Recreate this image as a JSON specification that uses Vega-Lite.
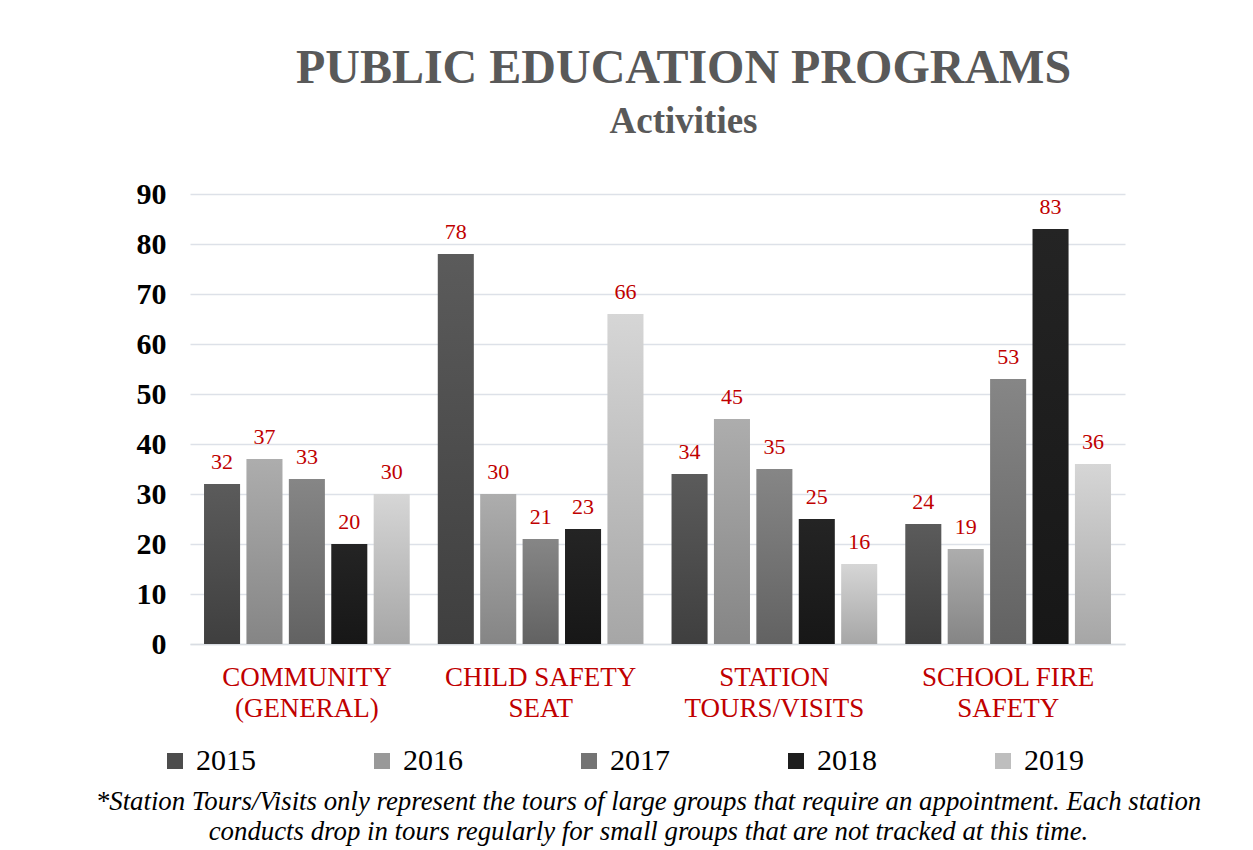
{
  "$schema": "https://vega.github.io/schema/vega-lite/v6.json",
  "background": "white",
  "padding": {"left": 95, "top": 45, "right": 5, "bottom": 2},
  "title": {
    "text": ["*Station Tours/Visits only represent the tours of large groups that require an appointment. Each station", "conducts drop in tours regularly for small groups that are not tracked at this time."],
    "orient": "bottom",
    "anchor": "middle",
    "dx": 18,
    "font": "Liberation Serif",
    "fontSize": 26.8,
    "fontStyle": "italic",
    "fontWeight": "normal",
    "color": "black",
    "lineHeight": 30,
    "offset": 13
  },
  "vconcat": [
    {
      "width": 935,
      "height": 450,
      "title": {
        "text": "PUBLIC EDUCATION PROGRAMS",
        "subtitle": "Activities",
        "anchor": "middle",
        "dx": 26,
        "font": "Liberation Serif",
        "fontSize": 48,
        "fontWeight": "bold",
        "color": "#595959",
        "subtitleFont": "Liberation Serif",
        "subtitleFontSize": 37,
        "subtitleFontWeight": "bold",
        "subtitleColor": "#595959",
        "subtitlePadding": 11,
        "offset": 39
      },
      "data": {
        "values": [
          {"program": "COMMUNITY|(GENERAL)", "year": "2015", "value": 32},
          {"program": "COMMUNITY|(GENERAL)", "year": "2016", "value": 37},
          {"program": "COMMUNITY|(GENERAL)", "year": "2017", "value": 33},
          {"program": "COMMUNITY|(GENERAL)", "year": "2018", "value": 20},
          {"program": "COMMUNITY|(GENERAL)", "year": "2019", "value": 30},
          {"program": "CHILD SAFETY|SEAT", "year": "2015", "value": 78},
          {"program": "CHILD SAFETY|SEAT", "year": "2016", "value": 30},
          {"program": "CHILD SAFETY|SEAT", "year": "2017", "value": 21},
          {"program": "CHILD SAFETY|SEAT", "year": "2018", "value": 23},
          {"program": "CHILD SAFETY|SEAT", "year": "2019", "value": 66},
          {"program": "STATION|TOURS/VISITS", "year": "2015", "value": 34},
          {"program": "STATION|TOURS/VISITS", "year": "2016", "value": 45},
          {"program": "STATION|TOURS/VISITS", "year": "2017", "value": 35},
          {"program": "STATION|TOURS/VISITS", "year": "2018", "value": 25},
          {"program": "STATION|TOURS/VISITS", "year": "2019", "value": 16},
          {"program": "SCHOOL FIRE|SAFETY", "year": "2015", "value": 24},
          {"program": "SCHOOL FIRE|SAFETY", "year": "2016", "value": 19},
          {"program": "SCHOOL FIRE|SAFETY", "year": "2017", "value": 53},
          {"program": "SCHOOL FIRE|SAFETY", "year": "2018", "value": 83},
          {"program": "SCHOOL FIRE|SAFETY", "year": "2019", "value": 36}
        ]
      },
      "encoding": {
        "x": {
          "field": "program",
          "type": "nominal",
          "sort": null,
          "scale": {"paddingInner": 0.12, "paddingOuter": 0.06},
          "axis": {
            "title": null,
            "labelAngle": 0,
            "labelExpr": "split(datum.label, '|')",
            "labelFont": "Liberation Serif",
            "labelFontSize": 27,
            "labelColor": "#C00000",
            "labelLineHeight": 31,
            "labelPadding": 20,
            "labelLimit": 400,
            "ticks": false,
            "domain": true,
            "domainColor": "#d9dde3",
            "domainWidth": 1.5,
            "grid": false
          }
        },
        "xOffset": {"field": "year", "type": "nominal", "scale": {"paddingInner": 0.15}},
        "y": {
          "field": "value",
          "type": "quantitative",
          "scale": {"domain": [0, 90], "nice": false},
          "axis": {
            "title": null,
            "values": [0, 10, 20, 30, 40, 50, 60, 70, 80, 90],
            "labelFont": "Liberation Serif",
            "labelFontSize": 30,
            "labelFontWeight": "bold",
            "labelColor": "black",
            "labelPadding": 24,
            "ticks": false,
            "domain": false,
            "grid": true,
            "gridColor": "#dde1e8",
            "gridWidth": 1.5
          }
        }
      },
      "layer": [
        {
          "mark": {"type": "bar"},
          "encoding": {
            "color": {
              "condition": [
                {"test": "datum.year === '2015'", "value": {"gradient": "linear", "x1": 0, "y1": 0, "x2": 0, "y2": 1, "stops": [{"offset": 0, "color": "#5b5b5b"}, {"offset": 1, "color": "#3f3f3f"}]}},
                {"test": "datum.year === '2016'", "value": {"gradient": "linear", "x1": 0, "y1": 0, "x2": 0, "y2": 1, "stops": [{"offset": 0, "color": "#adadad"}, {"offset": 1, "color": "#858585"}]}},
                {"test": "datum.year === '2017'", "value": {"gradient": "linear", "x1": 0, "y1": 0, "x2": 0, "y2": 1, "stops": [{"offset": 0, "color": "#868686"}, {"offset": 1, "color": "#626262"}]}},
                {"test": "datum.year === '2018'", "value": {"gradient": "linear", "x1": 0, "y1": 0, "x2": 0, "y2": 1, "stops": [{"offset": 0, "color": "#242424"}, {"offset": 1, "color": "#171717"}]}},
                {"test": "datum.year === '2019'", "value": {"gradient": "linear", "x1": 0, "y1": 0, "x2": 0, "y2": 1, "stops": [{"offset": 0, "color": "#d6d6d6"}, {"offset": 1, "color": "#a6a6a6"}]}}
              ],
              "field": "year",
              "type": "nominal",
              "scale": {
                "domain": ["2015", "2016", "2017", "2018", "2019"],
                "range": ["#4d4d4d", "#999999", "#747474", "#1e1e1e", "#bebebe"]
              },
              "legend": {
                "title": null,
                "orient": "bottom",
                "direction": "horizontal",
                "columns": 5,
                "symbolType": "square",
                "symbolSize": 256,
                "symbolStrokeWidth": 0,
                "symbolOffset": -30,
                "labelFont": "Liberation Serif",
                "labelFontSize": 30,
                "labelColor": "black",
                "labelOffset": 6,
                "columnPadding": 118,
                "offset": 25
              }
            }
          }
        },
        {
          "mark": {"type": "text", "baseline": "bottom", "dy": -10, "font": "Liberation Serif", "fontSize": 22, "color": "#C00000"},
          "encoding": {
            "text": {"field": "value", "type": "quantitative"}
          }
        }
      ]
    }
  ],
  "config": {
    "view": {"stroke": null},
    "concat": {"spacing": 0},
    "title": {"font": "Liberation Serif"}
  }
}
